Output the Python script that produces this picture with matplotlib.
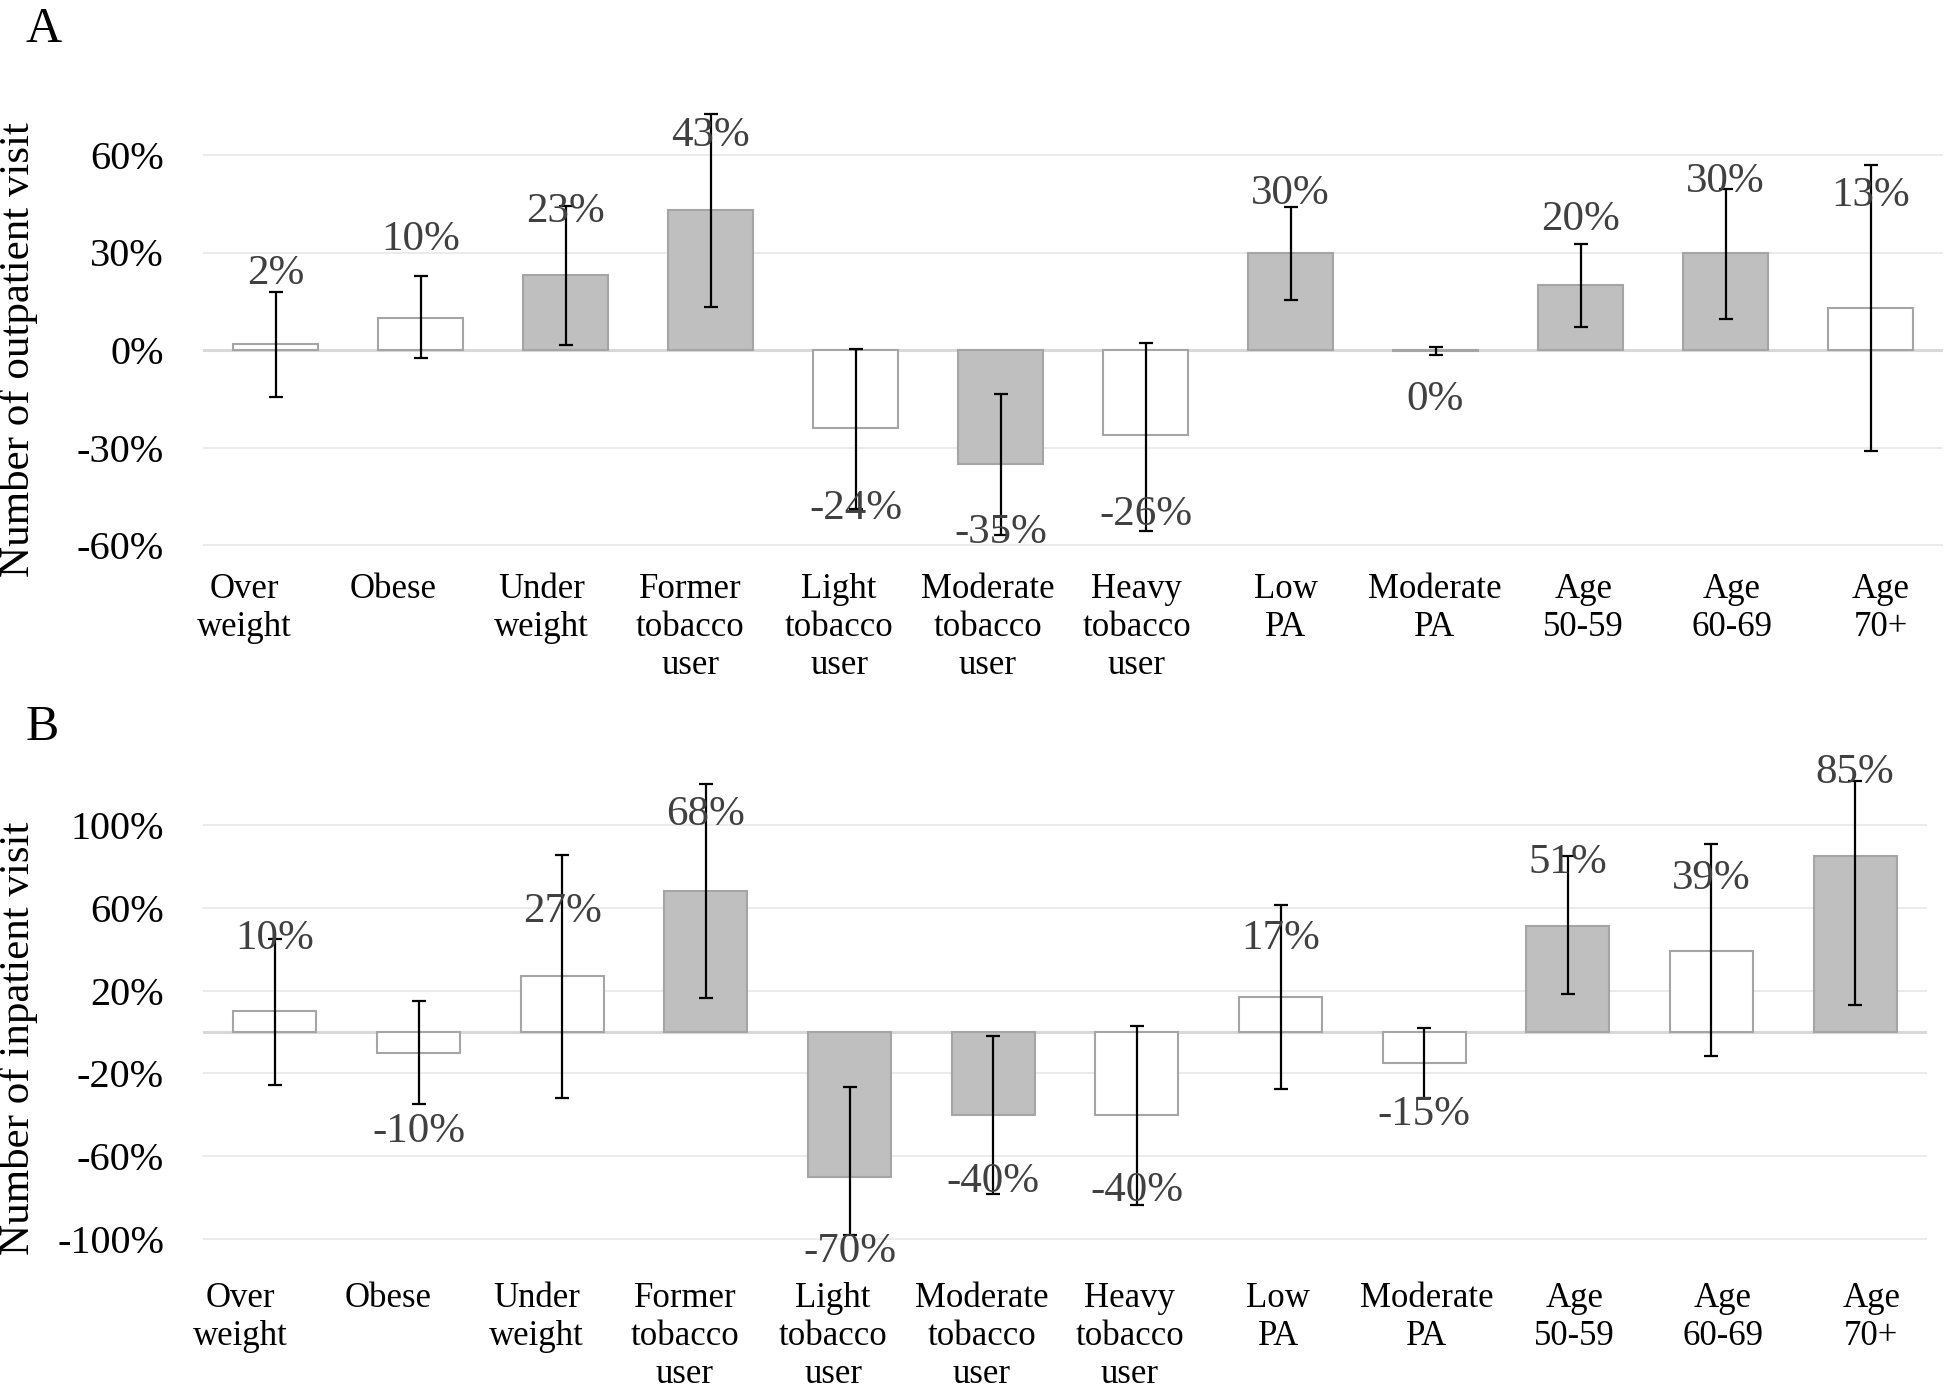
import matplotlib
matplotlib.use("Agg")
import matplotlib.pyplot as plt
import numpy as np

plt.rcParams['font.family'] = ['Liberation Serif', 'DejaVu Serif']

categories = ["Over\nweight", "Obese", "Under\nweight", "Former\ntobacco\nuser",
              "Light\ntobacco\nuser", "Moderate\ntobacco\nuser", "Heavy\ntobacco\nuser",
              "Low\nPA", "Moderate\nPA", "Age\n50-59", "Age\n60-69", "Age\n70+"]

# Panel A: outpatient visits (% change)
values_a = [2, 10, 23, 43, -24, -35, -26, 30, -0.4, 20, 30, 13]
lower_a = [-14.4, -2.6, 1.4, 13.1, -49, -57, -55.6, 15.5, -1.4, 7.0, 9.4, -31.2]
upper_a = [18.0, 22.8, 44.2, 72.6, 0.4, -13.5, 2.3, 43.9, 1.0, 32.7, 49.6, 56.9]
signif_a = [0, 0, 1, 1, 0, 1, 0, 1, 1, 1, 1, 0]
yticks_a = [-60, -30, 0, 30, 60]

# Panel B: inpatient visits (% change)
values_b = [10, -10, 27, 68, -70, -40, -40, 17, -15, 51, 39, 85]
lower_b = [-25.5, -34.9, -32.1, 16.6, -98, -78.3, -83.6, -27.4, -31.7, 18.1, -11.7, 12.8]
upper_b = [45.1, 14.9, 85.3, 119.6, -26.4, -1.9, 3.0, 61.3, 1.7, 85.1, 90.6, 121]
signif_b = [0, 0, 0, 1, 1, 1, 0, 0, 0, 1, 0, 1]
yticks_b = [-100, -60, -20, 20, 60, 100]

# label distance from bar end (points) - layout only
lab_off_a = [50, 56, 46, 54, 58, 50, 58, 42, 35, 47, 51, 81]
lab_off_b = [52, 57, 46, 55, 54, 48, 55, 42, 37, 46, 52, 60]

W, H = 1952, 1388
fig = plt.figure(figsize=(W / 100, H / 100), dpi=100)

GRAY = "#BFBFBF"
EDGE = "#A5A5A5"
GRID = "#EBEBEB"


def panel(rect, values, lower, upper, signif, yticks, ylim, lab_off, lab_span, ypad):
    ax = fig.add_axes(rect)
    x = np.arange(len(values))
    vals = np.array(values, dtype=float)
    lo = np.array(lower, dtype=float)
    hi = np.array(upper, dtype=float)
    colors = [GRAY if s else "white" for s in signif]
    ax.bar(x, vals, width=0.58, color=colors, edgecolor=EDGE, linewidth=1.5, zorder=3)
    ax.errorbar(x, vals, yerr=[vals - lo, hi - vals], fmt="none", ecolor="black",
                elinewidth=1.6, capsize=5, capthick=1.6, zorder=4)
    for xi, v, off in zip(x, vals, lab_off):
        sgn = 1 if v >= 0 else -1
        ax.annotate(f"{int(round(v))}%", (xi, v), xytext=(0, sgn * off),
                    textcoords="offset points", ha="center", va="center",
                    fontsize=31, color="#404040", zorder=5)
    ax.set_xlim(-0.5, len(values) - 0.5)
    ax.set_ylim(*ylim)
    ax.set_yticks(yticks)
    ax.set_yticklabels([f"{t}%" for t in yticks])
    ax.tick_params(axis="y", length=0, pad=28, labelsize=29)
    ax.set_xticks([])
    ax.grid(axis="y", color=GRID, linewidth=1.4, zorder=0)
    ax.set_axisbelow(True)
    ax.axhline(0, color="#D9D9D9", linewidth=2.2, zorder=2)
    for s in ax.spines.values():
        s.set_visible(False)
    # category labels on a twin x-axis (shares y)
    ax2 = ax.twiny()
    ax2.set_xlim(*lab_span)
    ax2.xaxis.set_ticks_position("bottom")
    ax2.set_xticks(x)
    ax2.set_xticklabels(categories, fontsize=25, linespacing=1.2)
    ax2.tick_params(axis="x", length=0, pad=ypad)
    for s in ax2.spines.values():
        s.set_visible(False)
    return ax


def span(left_px, right_px, first_center, step):
    return ((left_px - first_center) / step, (right_px - first_center) / step)


# Panel A geometry
a_left, a_right, a_top, a_bot = 203, 1943, 103, 564.5
panel([a_left / W, 1 - a_bot / H, (a_right - a_left) / W, (a_bot - a_top) / H],
      values_a, lower_a, upper_a, signif_a, yticks_a, (-66, 76), lab_off_a,
      span(a_left, a_right, 244, 148.8), 6)

# Panel B geometry
b_left, b_right, b_top, b_bot = 203, 1927, 773, 1264
panel([b_left / W, 1 - b_bot / H, (b_right - b_left) / W, (b_bot - b_top) / H],
      values_b, lower_b, upper_b, signif_b, yticks_b, (-112, 125), lab_off_b,
      span(b_left, b_right, 240, 148.3), 13)

fig.text(19 / W, 1 - 350 / H, "Number of outpatient visit", rotation=90,
         ha="center", va="center", fontsize=31)
fig.text(19 / W, 1 - 1038 / H, "Number of inpatient visit", rotation=90,
         ha="center", va="center", fontsize=31)
fig.text(26 / W, 1 - 6 / H, "A", ha="left", va="top", fontsize=36)
fig.text(26 / W, 1 - 704 / H, "B", ha="left", va="top", fontsize=36)

fig.savefig("out.png", dpi=100)
